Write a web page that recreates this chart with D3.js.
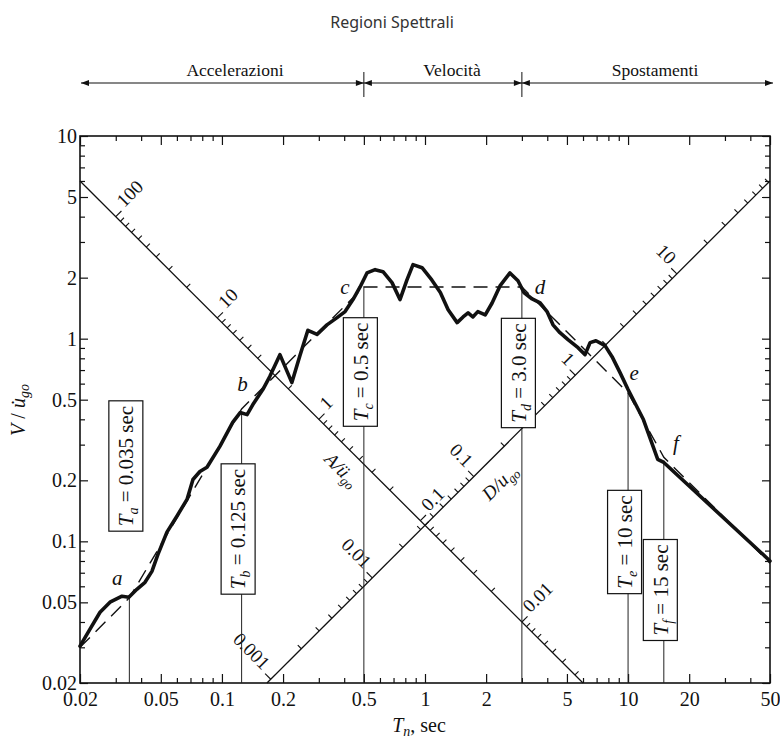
<!DOCTYPE html>
<html>
<head>
<meta charset="utf-8">
<script src="https://cdn.jsdelivr.net/npm/d3@7"></script>
<style>
  body { margin: 0; background: #fff; }
  svg text { font-family: "Liberation Serif", "Times New Roman", serif; fill: #111; }
</style>
</head>
<body>
<svg id="chart" width="780" height="742"></svg>
<script>
// response spectrum (period T in sec, normalized pseudo-velocity)
const specT = [0.0200,0.0224,0.0251,0.0281,0.0322,0.0348,0.0381,0.0418,0.0452,0.0484,0.0536,0.0600,0.0673,0.0720,0.0779,0.0844,0.0977,0.113,0.123,0.133,0.142,0.159,0.172,0.193,0.221,0.242,0.265,0.294,0.329,0.369,0.404,0.442,0.479,0.518,0.568,0.621,0.688,0.753,0.815,0.873,0.967,1.08,1.19,1.30,1.44,1.54,1.63,1.72,1.82,1.98,2.14,2.34,2.62,2.87,3.07,3.37,3.69,3.99,4.27,4.62,5.06,5.67,6.14,6.50,6.95,7.70,8.34,9.13,10.0,11.9,14.0,15.0,50];
const specV = [0.0304,0.0369,0.0447,0.0501,0.0536,0.0530,0.0580,0.0628,0.0711,0.0863,0.111,0.133,0.161,0.202,0.221,0.232,0.294,0.386,0.432,0.422,0.473,0.561,0.650,0.834,0.607,0.824,1.10,1.05,1.17,1.27,1.36,1.56,1.80,2.11,2.19,2.14,1.89,1.56,1.95,2.32,2.24,1.95,1.69,1.39,1.20,1.28,1.34,1.28,1.36,1.31,1.50,1.82,2.11,1.93,1.69,1.57,1.50,1.36,1.17,1.07,0.989,0.903,0.834,0.956,0.977,0.924,0.815,0.680,0.561,0.399,0.254,0.245,0.080];

// idealized (dashed) spectrum
const idealT = [0.02, 0.035, 0.125, 0.5, 3.0, 10, 15, 50];
const idealV = [0.030, 0.0526, 0.45, 1.8, 1.8, 0.54, 0.26, 0.078];

// corner periods
const cornerNames = ["a", "b", "c", "d", "e", "f"];
const cornerT = [0.035, 0.125, 0.5, 3.0, 10, 15];
const cornerV = [0.053, 0.43, 1.8, 1.8, 0.55, 0.25];
const cornerText = ["0.035 sec", "0.125 sec", "0.5 sec", "3.0 sec", "10 sec", "15 sec"];

const xTickLabels = ["0.02","0.05","0.1","0.2","0.5","1","2","5","10","20","50"];
const yTickLabels = ["0.02","0.05","0.1","0.2","0.5","1","2","5","10"];
const aTickLabels = ["100","10","1","0.1","0.01"];
const dTickLabels = ["0.001","0.01","0.1","1","10"];
const regionNames = ["Accelerazioni", "Velocità", "Spostamenti"];

// tripartite diagonals: V = k/T (A axis), V = k*T (D axis)
const diagK = 0.12;
const aRefT = 0.30;   // period where A/üg0 = 1 on the A axis
const dRefT = 0.55;   // period where D/ug0 = 0.01 on the D axis

// layout (pixels)
const boxMid = [466, 529, 372, 373, 542, 590];
const letterDx = [-12, 1, -19, 18, 6, 12];
const letterDy = [-20, -29, 0, 0, -19, -18];
const regionX = [235, 452, 655];

const svg = d3.select("#chart");
const x = d3.scaleLog().domain([0.02, 50]).range([80, 770]);
const y = d3.scaleLog().domain([0.02, 10]).range([683, 136]);

// title
svg.append("text").attr("x", 392).attr("y", 28).attr("text-anchor", "middle")
  .style("font-family", "'Noto Sans', sans-serif").style("font-size", "16px").style("fill", "#333")
  .text("Regioni Spettrali");

// region arrows
const arrowY = 83;
const bounds = [81, x(0.5), x(3.0), 773];
const band = svg.append("g").attr("stroke", "#111").attr("fill", "#111");
band.append("line").attr("x1", bounds[0]).attr("x2", bounds[3]).attr("y1", arrowY).attr("y2", arrowY).attr("stroke-width", 1.2);
[bounds[1], bounds[2]].forEach(bx => {
  band.append("line").attr("x1", bx).attr("x2", bx).attr("y1", 72).attr("y2", 97).attr("stroke-width", 1);
});
function head(tipX, dir) {
  band.append("path").attr("stroke", "none")
    .attr("d", `M${tipX},${arrowY} L${tipX - dir * 8},${arrowY - 3} L${tipX - dir * 8},${arrowY + 3} Z`);
}
head(bounds[0], -1); head(bounds[3], 1);
head(bounds[1], 1); head(bounds[1], -1);
head(bounds[2], 1); head(bounds[2], -1);
regionNames.forEach((n, i) => {
  svg.append("text").attr("x", regionX[i]).attr("y", 76).attr("text-anchor", "middle")
    .style("font-size", "17.5px").text(n);
});

// axes
function styleAxis(g, majors, len) {
  g.select(".domain").remove();
  g.selectAll(".tick").each(function(d) {
    const isMajor = majors.some(m => Math.abs(m - d) / m < 1e-6);
    const ln = d3.select(this).select("line");
    const attr = ln.attr("x2") !== null && +ln.attr("x2") !== 0 ? "x2" : "y2";
    const sign = Math.sign(+ln.attr(attr)) || 1;
    ln.attr(attr, sign * (isMajor ? len : 5)).attr("stroke", "#111").attr("stroke-width", 1.2);
  });
  g.selectAll("text").style("font-size", "20px").style("font-family", "'Liberation Serif', serif");
}
const xMaj = xTickLabels.map(Number), yMaj = yTickLabels.map(Number);
const fmtX = d => { const i = xMaj.findIndex(m => Math.abs(m - d) / m < 1e-6); return i >= 0 ? xTickLabels[i] : ""; };
const fmtY = d => { const i = yMaj.findIndex(m => Math.abs(m - d) / m < 1e-6); return i >= 0 ? yTickLabels[i] : ""; };

svg.append("g").attr("transform", "translate(0,683)")
  .call(d3.axisBottom(x).tickValues(x.ticks()).tickSize(-5).tickPadding(9).tickFormat(fmtX))
  .call(g => styleAxis(g, xMaj, 9));
svg.append("g").attr("transform", "translate(0,136)")
  .call(d3.axisTop(x).tickValues(x.ticks()).tickSize(-5).tickFormat(""))
  .call(g => styleAxis(g, xMaj, 9));
svg.append("g").attr("transform", "translate(80,0)")
  .call(d3.axisLeft(y).tickValues(y.ticks()).tickSize(-5).tickPadding(3).tickFormat(fmtY))
  .call(g => styleAxis(g, yMaj, 8));
svg.append("g").attr("transform", "translate(770,0)")
  .call(d3.axisRight(y).tickValues(y.ticks()).tickSize(-5).tickFormat(""))
  .call(g => styleAxis(g, yMaj, 8));
svg.selectAll(".tick text").style("fill", "#111");

svg.append("rect").attr("x", 80).attr("y", 136).attr("width", 690).attr("height", 547)
  .attr("fill", "none").attr("stroke", "#111").attr("stroke-width", 1.6);

// axis titles
const xt = svg.append("text").attr("x", 419).attr("y", 732).attr("text-anchor", "middle").style("font-size", "20px");
xt.append("tspan").style("font-style", "italic").text("T");
xt.append("tspan").style("font-style", "italic").style("font-size", "14px").attr("dy", 4).text("n");
xt.append("tspan").attr("dy", -4).text(", sec");

const yt = svg.append("text").attr("transform", "translate(25,410) rotate(-90)").attr("text-anchor", "middle").style("font-size", "20px");
yt.append("tspan").style("font-style", "italic").text("V");
yt.append("tspan").text(" / ");
yt.append("tspan").style("font-style", "italic").text("u\u0307");
yt.append("tspan").style("font-style", "italic").style("font-size", "14px").attr("dy", 4).text("go");

// diagonal axes
const diag = svg.append("g");
const line = d3.line().x(d => x(d[0])).y(d => y(d[1]));
diag.append("path").attr("d", line([[0.02, diagK / 0.02], [diagK / 0.02, 0.02]]))
  .attr("fill", "none").attr("stroke", "#111").attr("stroke-width", 1.3);
diag.append("path").attr("d", line([[0.02 / diagK, 0.02], [50, diagK * 50]]))
  .attr("fill", "none").attr("stroke", "#111").attr("stroke-width", 1.3);

const s2 = Math.SQRT1_2;
function diagTicks(values, toT, toV, px, py, majors, labels, rot, anchor, lo, hi) {
  values.forEach(v => {
    const T = toT(v);
    if (T < lo || T > hi) return;
    const mi = majors.findIndex(m => Math.abs(m - v) / m < 1e-6);
    const len = mi >= 0 ? 8 : 5;
    const cx = x(T), cy = y(toV(T));
    diag.append("line").attr("x1", cx).attr("y1", cy)
      .attr("x2", cx + px * len).attr("y2", cy + py * len)
      .attr("stroke", "#111").attr("stroke-width", 1.1);
    if (mi >= 0) {
      const lx = cx + px * (len + 4), ly = cy + py * (len + 4);
      diag.append("text").attr("transform", `translate(${lx},${ly}) rotate(${rot})`)
        .attr("text-anchor", anchor).style("font-size", "19px").text(labels[mi]);
    }
  });
}
const tickVals = [];
[0.001, 0.01, 0.1, 1, 10, 100].forEach(dec => d3.range(1, 10).forEach(m => tickVals.push(+(m * dec).toPrecision(6))));
diagTicks(tickVals.filter(v => v <= 100), a => aRefT / Math.sqrt(a), T => diagK / T, s2, -s2,
  aTickLabels.map(Number), aTickLabels, -45, "start", 0.02, diagK / 0.02);
diagTicks(tickVals, d => dRefT * Math.sqrt(d / 0.01), T => diagK * T, -s2, -s2,
  dTickLabels.map(Number), dTickLabels, 45, "end", 0.02 / diagK, 50);

// diagonal axis names
{
  const T = 0.455, cx = x(T) - s2 * 19, cy = y(diagK / T) + s2 * 19;
  const t = diag.append("text").attr("transform", `translate(${cx},${cy}) rotate(45)`)
    .attr("text-anchor", "middle").attr("dy", "0.35em").style("font-size", "19px").style("font-style", "italic");
  t.append("tspan").text("A/\u00fc");
  t.append("tspan").style("font-size", "13px").attr("dy", 4).text("go");
}
{
  const T = 1.95, cx = x(T) + s2 * 22, cy = y(diagK * T) + s2 * 22;
  const t = diag.append("text").attr("transform", `translate(${cx},${cy}) rotate(-45)`)
    .attr("text-anchor", "middle").attr("dy", "0.35em").style("font-size", "19px").style("font-style", "italic");
  t.append("tspan").text("D/u");
  t.append("tspan").style("font-size", "13px").attr("dy", 4).text("go");
}

// corner period lines and boxes
const marks = svg.append("g");
cornerT.forEach((T, i) => {
  const cx = x(T);
  marks.append("line").attr("x1", cx).attr("x2", cx).attr("y1", 683).attr("y2", y(cornerV[i]))
    .attr("stroke", "#222").attr("stroke-width", 1);
});
cornerT.forEach((T, i) => {
  const bx = x(T) - 3.5, by = boxMid[i];
  const g = marks.append("g");
  const rect = g.append("rect").attr("fill", "#fff").attr("stroke", "#111").attr("stroke-width", 1.2);
  const t = g.append("text").attr("transform", `translate(${bx},${by}) rotate(-90)`)
    .attr("text-anchor", "middle").attr("dy", "0.35em").style("font-size", "21px");
  t.append("tspan").style("font-style", "italic").text("T");
  t.append("tspan").style("font-style", "italic").style("font-size", "14px").attr("dy", 5).text(cornerNames[i]);
  t.append("tspan").attr("dy", -5).text(" = " + cornerText[i]);
  const L = t.node().getComputedTextLength();
  const h = L + 10;
  rect.attr("x", bx - 17).attr("y", by - h / 2).attr("width", 34).attr("height", h);
});

// idealized spectrum (dashed)
const specLine = d3.line().x(d => x(d[0])).y(d => y(d[1]));
svg.append("path").datum(d3.zip(idealT, idealV)).attr("d", specLine)
  .attr("fill", "none").attr("stroke", "#111").attr("stroke-width", 1.4).attr("stroke-dasharray", "14,8");

// response spectrum
svg.append("path").datum(d3.zip(specT, specV)).attr("d", specLine)
  .attr("fill", "none").attr("stroke", "#111").attr("stroke-width", 3.6)
  .attr("stroke-linejoin", "round").attr("stroke-linecap", "round");

// corner letters
cornerNames.forEach((n, i) => {
  svg.append("text").attr("x", x(cornerT[i]) + letterDx[i]).attr("y", y(cornerV[i]) + letterDy[i])
    .attr("text-anchor", "middle").attr("dy", "0.35em")
    .style("font-size", "21px").style("font-style", "italic").text(n);
});
</script>
</body>
</html>
